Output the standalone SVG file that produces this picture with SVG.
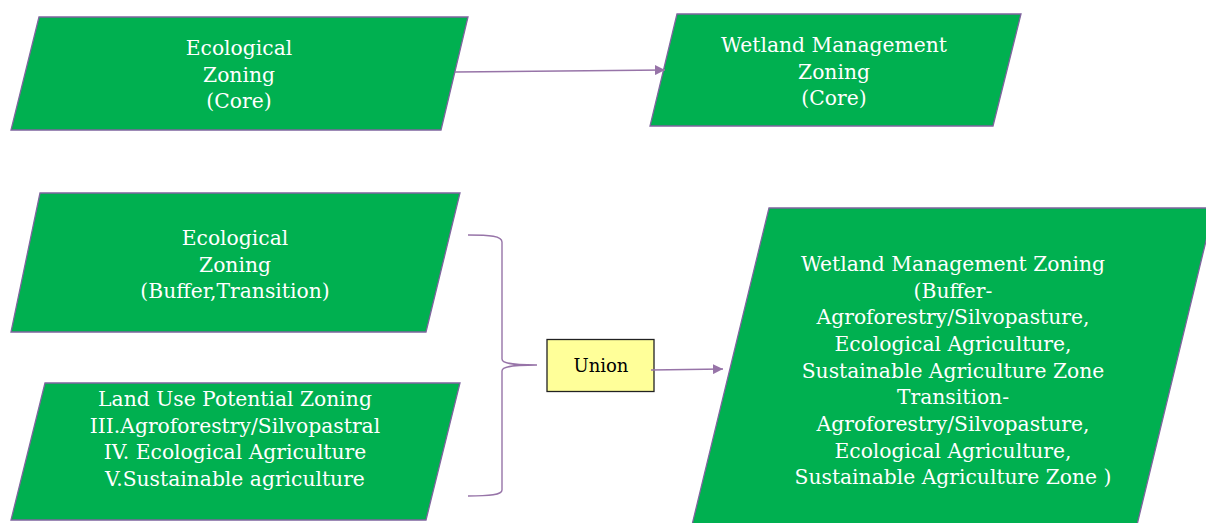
<svg xmlns="http://www.w3.org/2000/svg" width="1206" height="523" viewBox="0 0 1206 523">
<defs>
<style>
.node{fill:#00B050;stroke:#7E649E;stroke-width:1.3}
.t{font-family:"DejaVu Serif","Liberation Serif",serif;font-size:20.3px;fill:#FFFFFF;text-anchor:middle}
.conn{fill:none;stroke:#9774A8;stroke-width:1.4}
.u{fill:#FFFF99;stroke:#222222;stroke-width:1.3}
.ut{font-family:"DejaVu Serif","Liberation Serif",serif;font-size:18px;fill:#000000;text-anchor:middle}
</style>
<marker id="ah" viewBox="0 0 10 10" refX="10" refY="5" markerWidth="10" markerHeight="10" markerUnits="userSpaceOnUse" orient="auto">
<path d="M0,0 L10,5 L0,10 Z" fill="#9774A8"/>
</marker>
</defs>
<rect width="1206" height="523" fill="#FFFFFF"/>
<g id="eco-core">
<polygon class="node" points="39,17 468,17 441,130 11,130"/>
<text class="t" x="239" y="55">Ecological</text>
<text class="t" x="239" y="81.5">Zoning</text>
<text class="t" x="239" y="108">(Core)</text>
</g>
<g id="wet-core">
<polygon class="node" points="677,14 1021,14 993,126 650,126"/>
<text class="t" x="834" y="52">Wetland Management</text>
<text class="t" x="834" y="78.5">Zoning</text>
<text class="t" x="834" y="105">(Core)</text>
</g>
<g id="eco-buffer">
<polygon class="node" points="40,193 460,193 426,332 11,332"/>
<text class="t" x="235" y="245">Ecological</text>
<text class="t" x="235" y="271.5">Zoning</text>
<text class="t" x="235" y="298">(Buffer,Transition)</text>
</g>
<g id="landuse">
<polygon class="node" points="45,383 460,383 426,520 11,520"/>
<text class="t" x="235" y="406">Land Use Potential Zoning</text>
<text class="t" x="235" y="432.5">III.Agroforestry/Silvopastral</text>
<text class="t" x="235" y="459">IV. Ecological Agriculture</text>
<text class="t" x="235" y="485.5">V.Sustainable agriculture</text>
</g>
<g id="union">
<rect class="u" x="547" y="339.5" width="107" height="52"/>
<text class="ut" x="601" y="372">Union</text>
</g>
<g id="wet-buffer">
<polygon class="node" points="769,208 1214,208 1137,525 692,525"/>
<text class="t" x="953" y="271">Wetland Management Zoning</text>
<text class="t" x="953" y="297.7">(Buffer-</text>
<text class="t" x="953" y="324.3">Agroforestry/Silvopasture,</text>
<text class="t" x="953" y="351">Ecological Agriculture,</text>
<text class="t" x="953" y="377.7">Sustainable Agriculture Zone</text>
<text class="t" x="953" y="404.3">Transition-</text>
<text class="t" x="953" y="431">Agroforestry/Silvopasture,</text>
<text class="t" x="953" y="457.7">Ecological Agriculture,</text>
<text class="t" x="953" y="484.3">Sustainable Agriculture Zone )</text>
</g>
<g id="connectors">
<path class="conn" d="M455,72 L665,70" marker-end="url(#ah)"/>
<path class="conn" d="M468,235 C490,235 502,236 502,242 L502,359 C502,363 510,365 537,365 C510,365 502,367 502,371 L502,490 C502,495 490,496 468,496"/>
<path class="conn" d="M651,370 L723,369" marker-end="url(#ah)"/>
</g>
</svg>
